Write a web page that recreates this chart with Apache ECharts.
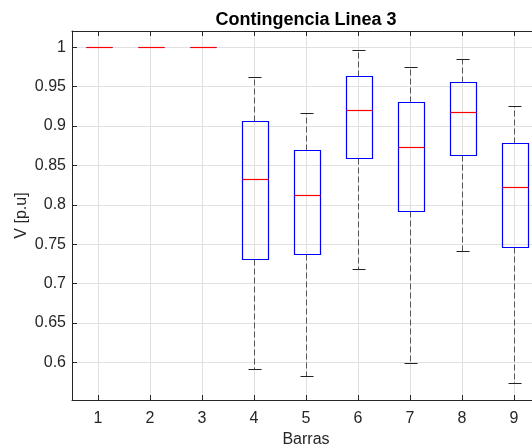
<!DOCTYPE html>
<html>
<head>
<meta charset="utf-8">
<script src="https://cdn.jsdelivr.net/npm/echarts@6/dist/echarts.min.js"></script>
<style>
html,body{margin:0;padding:0;background:#fff;}
#chart{width:532px;height:448px;}
</style>
</head>
<body>
<div id="chart"></div>
<script>
var categories = [1, 2, 3, 4, 5, 6, 7, 8, 9];
var lowerWhisker = [1, 1, 1, 0.591, 0.583, 0.718, 0.599, 0.741, 0.573];
var q1Values     = [1, 1, 1, 0.731, 0.738, 0.859, 0.792, 0.863, 0.746];
var medianValues = [1, 1, 1, 0.833, 0.813, 0.920, 0.873, 0.918, 0.822];
var q3Values     = [1, 1, 1, 0.906, 0.870, 0.963, 0.931, 0.956, 0.879];
var upperWhisker = [1, 1, 1, 0.962, 0.917, 0.996, 0.975, 0.985, 0.925];
var yTicks = [0.6, 0.65, 0.7, 0.75, 0.8, 0.85, 0.9, 0.95, 1];
var xTicks = [1, 2, 3, 4, 5, 6, 7, 8, 9];

var data = categories.map(function (c, i) {
  return [c, lowerWhisker[i], q1Values[i], medianValues[i], q3Values[i], upperWhisker[i]];
});

var textColor = '#262626';
var gridColor = '#e0e0e0';
var fontFam = 'Liberation Sans, Arial, sans-serif';

function px(v) { return Math.round(v) + 0.5; }

function renderItem(params, api) {
  var x = api.value(0);
  var pLo = api.coord([x, api.value(1)]);
  var pQ1 = api.coord([x, api.value(2)]);
  var pMed = api.coord([x, api.value(3)]);
  var pQ3 = api.coord([x, api.value(4)]);
  var pHi = api.coord([x, api.value(5)]);
  var w = api.size([1, 0])[0];
  var bw = w * 0.5, cw = w * 0.25;
  var cx = px(pMed[0]);
  var l = px(cx - bw / 2), r = px(cx + bw / 2);
  var cl = px(cx - cw / 2), cr = px(cx + cw / 2);
  var dash = { stroke: '#555', lineWidth: 1, lineDash: [6, 3] };
  var children = [];
  children.push({ type: 'line', shape: { x1: cx, y1: px(pQ3[1]), x2: cx, y2: px(pHi[1]) }, style: dash });
  children.push({ type: 'line', shape: { x1: cx, y1: px(pQ1[1]), x2: cx, y2: px(pLo[1]) }, style: dash });
  children.push({ type: 'line', shape: { x1: cl, y1: px(pHi[1]), x2: cr, y2: px(pHi[1]) }, style: { stroke: '#222', lineWidth: 1 } });
  children.push({ type: 'line', shape: { x1: cl, y1: px(pLo[1]), x2: cr, y2: px(pLo[1]) }, style: { stroke: '#222', lineWidth: 1 } });
  children.push({ type: 'rect', shape: { x: l, y: px(pQ3[1]), width: r - l, height: px(pQ1[1]) - px(pQ3[1]) }, style: { fill: 'none', stroke: '#0000ff', lineWidth: 1.2 } });
  children.push({ type: 'line', shape: { x1: l, y1: px(pMed[1]), x2: r, y2: px(pMed[1]) }, style: { stroke: '#ff0000', lineWidth: 1.2 } });
  return { type: 'group', children: children };
}

var chart = echarts.init(document.getElementById('chart'), null, { renderer: 'canvas' });
chart.setOption({
  animation: false,
  backgroundColor: '#fff',
  title: {
    text: 'Contingencia Linea 3',
    left: 301, top: 6, textAlign: 'center',
    textStyle: { fontFamily: fontFam, fontSize: 18, fontWeight: 'bold', color: '#000' }
  },
  grid: { left: 72, width: 468, top: 31, height: 369, containLabel: false, outerBoundsMode: 'none' },
  xAxis: [{
    type: 'value', min: 0.5, max: 9.5, position: 'bottom',
    name: 'Barras', nameLocation: 'middle', nameGap: 32, nameMoveOverlap: false,
    nameTextStyle: { fontFamily: fontFam, fontSize: 16, color: textColor },
    axisLine: { show: true, onZero: false, lineStyle: { color: textColor, width: 1 } },
    axisTick: { show: true, inside: true, length: 5, customValues: xTicks, lineStyle: { color: textColor } },
    axisLabel: { customValues: xTicks, margin: 11, fontFamily: fontFam, fontSize: 16, color: textColor },
    splitLine: { show: true, lineStyle: { color: gridColor, width: 1 } }
  }, {
    type: 'value', min: 0.5, max: 9.5, position: 'top',
    axisLine: { show: true, onZero: false, lineStyle: { color: textColor, width: 1 } },
    axisTick: { show: true, inside: true, length: 5, customValues: xTicks, lineStyle: { color: textColor } },
    axisLabel: { show: false },
    splitLine: { show: false }
  }],
  yAxis: {
    type: 'value', min: 0.552, max: 1.0207,
    name: 'V [p.u]', nameLocation: 'middle', nameGap: 42, nameRotate: 90, nameMoveOverlap: false,
    nameTextStyle: { fontFamily: fontFam, fontSize: 16, color: textColor },
    axisLine: { show: true, onZero: false, lineStyle: { color: textColor, width: 1 } },
    axisTick: { show: true, inside: true, length: 5, customValues: yTicks, lineStyle: { color: textColor } },
    axisLabel: { customValues: yTicks, margin: 6, fontFamily: fontFam, fontSize: 16, color: textColor },
    splitLine: { show: true, lineStyle: { color: gridColor, width: 1 } }
  },
  series: [{
    type: 'custom',
    xAxisIndex: 0,
    renderItem: renderItem,
    encode: { x: 0, y: [1, 2, 3, 4, 5] },
    data: data,
    clip: false
  }]
});
</script>
</body>
</html>
